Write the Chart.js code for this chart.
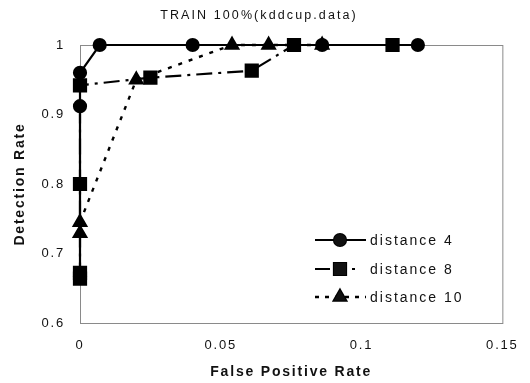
<!DOCTYPE html>
<html>
<head>
<meta charset="utf-8">
<script src="https://cdn.jsdelivr.net/npm/chart.js@4"></script>
<style>
  html, body { margin: 0; padding: 0; background: #fff; }
  #wrap { width: 530px; height: 383px; }
</style>
</head>
<body>
<div id="wrap"><canvas id="chart" width="530" height="383"></canvas></div>
<script>
// values
const titleText = "TRAIN 100%(kddcup.data)";
const seriesNames = ["distance 4", "distance 8", "distance 10"];
const xTicks = [0, 0.05, 0.1, 0.15];
const yTicks = [0.6, 0.7, 0.8, 0.9, 1];

const d4X = [0, 0, 0, 0.007, 0.04, 0.086, 0.12];
const d4Y = [0.667, 0.912, 0.96, 1, 1, 1, 1];
const d8X = [0, 0, 0, 0, 0.025, 0.061, 0.076, 0.111];
const d8Y = [0.664, 0.672, 0.8, 0.942, 0.953, 0.963, 1, 1];
const d10X = [0, 0, 0.02, 0.054, 0.067, 0.086];
const d10Y = [0.729, 0.745, 0.95, 1, 1, 1];

const pts = (xs, ys) => xs.map((x, i) => ({x: x, y: ys[i]}));
const FONT = "'Liberation Sans', Arial, sans-serif";

// frame + title + legend drawn by hand (legend has line samples with markers)
const extras = {
  id: "extras",
  beforeDraw(chart){
    chart.ctx.letterSpacing = "1.8px";
  },
  beforeDatasetsDraw(chart){
    const {ctx, chartArea: a} = chart;
    ctx.save();
    ctx.strokeStyle = "#8a8a8a";
    ctx.lineWidth = 1;
    ctx.strokeRect(a.left + 0.5, a.top + 0.5, a.right - a.left, a.bottom - a.top);
    ctx.restore();
  },
  afterDraw(chart){
    const ctx = chart.ctx;
    ctx.save();
    ctx.letterSpacing = "2.1px";
    ctx.fillStyle = "#111";
    ctx.font = "12.5px " + FONT;
    ctx.textAlign = "center";
    ctx.textBaseline = "middle";
    ctx.fillText(titleText, 259, 16);

    const rows = [240, 269, 297];
    chart.data.datasets.forEach((ds, i) => {
      const y = rows[i];
      ctx.strokeStyle = "#000";
      ctx.lineWidth = ds.borderWidth;
      ctx.setLineDash(ds.legendDash);
      ctx.beginPath();
      ctx.moveTo(315, y);
      ctx.lineTo(366, y);
      ctx.stroke();
      ctx.setLineDash([]);
      Chart.helpers.drawPoint(ctx, {pointStyle: ds.pointStyle, radius: ds.pointRadius, borderWidth: 1, rotation: 0}, 340, y);
      ctx.fill();
      ctx.letterSpacing = "2px";
      ctx.font = "14px " + FONT;
      ctx.textAlign = "left";
      ctx.fillStyle = "#111";
      ctx.fillText(ds.label, 370, y + 1);
    });
    ctx.restore();
  }
};

const common = {
  borderColor: "#000",
  backgroundColor: "#000",
  pointBackgroundColor: "#000",
  pointBorderColor: "#000",
  showLine: true,
  clip: false,
  tension: 0
};

new Chart(document.getElementById("chart"), {
  type: "scatter",
  data: {
    datasets: [
      Object.assign({}, common, {
        label: seriesNames[0], data: pts(d4X, d4Y),
        borderWidth: 2.2, pointStyle: "circle", pointRadius: 6,
        legendDash: []
      }),
      Object.assign({}, common, {
        label: seriesNames[1], data: pts(d8X, d8Y),
        borderWidth: 2.2, pointStyle: "rect", pointRadius: 8.5,
        borderDash: [16, 6, 3, 6], legendDash: [15, 22, 3, 50]
      }),
      Object.assign({}, common, {
        label: seriesNames[2], data: pts(d10X, d10Y),
        borderWidth: 2.4, pointStyle: "triangle", pointRadius: 7,
        borderDash: [4, 7], legendDash: [4, 6]
      })
    ]
  },
  options: {
    responsive: false,
    animation: false,
    events: [],
    layout: { padding: { top: 45, right: 27, left: 0, bottom: 0 } },
    plugins: { legend: { display: false }, title: { display: false }, tooltip: { enabled: false } },
    scales: {
      x: {
        type: "linear", min: 0, max: 0.15,
        afterBuildTicks: s => { s.ticks = xTicks.map(v => ({value: v})); },
        afterFit: s => { s.height = 60; },
        grid: { display: false, drawTicks: false },
        border: { display: false },
        ticks: { color: "#111", padding: 15, font: { family: FONT, size: 13 },
                 callback: v => String(Number(v.toFixed(2))) },
        title: { display: true, text: "False Positive Rate", color: "#111",
                 font: { family: FONT, size: 14, weight: "bold" }, padding: { top: 0, bottom: 2 } }
      },
      y: {
        type: "linear", min: 0.6, max: 1,
        afterBuildTicks: s => { s.ticks = yTicks.map(v => ({value: v})); },
        afterFit: s => { s.width = 80; },
        grid: { display: false, drawTicks: false },
        border: { display: false },
        ticks: { color: "#111", padding: 15, font: { family: FONT, size: 13 },
                 callback: v => String(Number(v.toFixed(1))) },
        title: { display: true, text: "Detection Rate", color: "#111",
                 font: { family: FONT, size: 14, weight: "bold" }, padding: { top: 12, bottom: 0 } }
      }
    }
  },
  plugins: [extras]
});
</script>
</body>
</html>
